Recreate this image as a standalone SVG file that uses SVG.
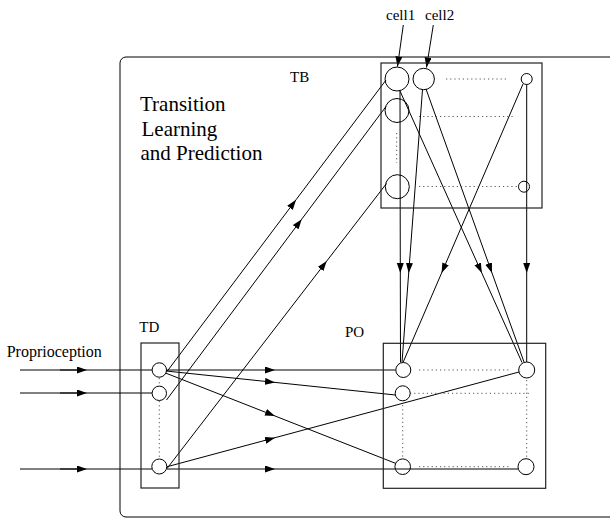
<svg xmlns="http://www.w3.org/2000/svg" width="610" height="525" viewBox="0 0 610 525">
  <style>
    .txt { font-family: "Liberation Serif", "Times New Roman", serif; fill: #000; }
    .lbl { font-size: 15px; }
    .title { font-size: 21px; }
    .box { fill: none; stroke: #222; stroke-width: 1.2; }
    .cell { fill: #fff; stroke: #000; stroke-width: 1; }
    .dots { fill: none; stroke: #555; stroke-width: 1; stroke-dasharray: 1.2 3; }
    .wire { fill: none; stroke: #000; stroke-width: 1; marker-mid: url(#head); }
    .plain { fill: none; stroke: #000; stroke-width: 1; }
    .ptr { fill: none; stroke: #000; stroke-width: 1; marker-end: url(#head); }
  </style>
  <defs>
    <marker id="head" markerUnits="userSpaceOnUse" markerWidth="11" markerHeight="8" refX="10" refY="3.5" orient="auto">
      <path d="M0,0 L10,3.5 L0,7 z" fill="#000"/>
    </marker>
  </defs>

  <rect width="610" height="525" fill="#fff"/>

  <!-- enclosing module -->
  <g id="module">
    <rect x="120" y="57" width="520" height="460" rx="6" fill="none" stroke="#000" stroke-width="1"/>
    <text class="txt title" x="140" y="111">Transition</text>
    <text class="txt title" x="141.5" y="136">Learning</text>
    <text class="txt title" x="140.5" y="160">and Prediction</text>
  </g>

  <!-- connectors -->
  <g id="connectors">
    <!-- proprioceptive inputs -->
    <path class="wire" d="M20,370 L87,370 L152,370"/>
    <path class="wire" d="M20,393 L87,393 L152,393"/>
    <path class="wire" d="M20,469 L87,469 L152,469"/>
    <path class="plain" d="M60,370 H78 M60,393 H78 M60,469 H78" stroke-width="1.6"/>

    <!-- TD to PO -->
    <path class="wire" d="M166.5,370 L275,370 L395.5,370"/>
    <path class="wire" d="M166,371 L275,382.4 L395.5,395"/>
    <path class="wire" d="M165.5,373 L275,416 L396,463.5"/>
    <path class="wire" d="M166,467 L275,437.7 L519,372"/>
    <path class="wire" d="M166.5,469 L275,469 L518,469"/>

    <!-- TD to TB -->
    <path class="wire" d="M167,371.5 L296,199.8 L386,80"/>
    <path class="wire" d="M166.5,400 L301.7,219.2 L386,106.5"/>
    <path class="wire" d="M167,468.5 L326.7,261.1 L386.5,183.5"/>

    <!-- TB to PO -->
    <path class="wire" d="M400,91 L400.3,273 L400.5,362.5"/>
    <path class="wire" d="M422.5,89.5 L408.7,273 L402,362.5"/>
    <path class="wire" d="M426,89 L492,273 L524,362"/>
    <path class="wire" d="M400,91 L481.8,273 L522,362.5"/>
    <path class="wire" d="M523,84 L441.6,273 L403,362.5"/>
    <path class="wire" d="M526.7,84.5 L526.7,273 L526.7,362"/>

    <!-- cell pointers -->
    <path class="ptr" d="M403.3,25 L397.5,66.5"/>
    <path class="ptr" d="M433.3,25 L426.5,67.5"/>
  </g>

  <!-- TB layer -->
  <g id="TB">
    <rect class="box" x="381" y="63" width="161" height="145"/>
    <text class="txt lbl" x="290" y="82">TB</text>
    <path class="dots" d="M446,79 H507 M419,116.5 H515 M419,186.5 H518 M396.7,133 V163"/>
    <circle class="cell" cx="397" cy="79" r="12" fill-opacity="0"/>
    <circle class="cell" cx="423.7" cy="79" r="10.7" fill-opacity="0"/>
    <circle class="cell" cx="526.7" cy="79" r="5.5" fill-opacity="0"/>
    <circle class="cell" cx="397" cy="110.5" r="12" fill-opacity="0"/>
    <circle class="cell" cx="397.3" cy="186.7" r="12" fill-opacity="0"/>
    <circle class="cell" cx="524" cy="186.7" r="5.5" fill-opacity="0"/>
    <text class="txt lbl" x="386" y="19.5">cell1</text>
    <text class="txt lbl" x="425" y="19.5">cell2</text>
  </g>

  <!-- TD layer -->
  <g id="TD">
    <rect class="box" x="141" y="343" width="38" height="145"/>
    <text class="txt lbl" x="139.3" y="331.7">TD</text>
    <path class="dots" d="M159.3,378 V386 M159.3,401 V459"/>
    <circle class="cell" cx="159.3" cy="370" r="7.2"/>
    <circle class="cell" cx="159.3" cy="393.3" r="7.2"/>
    <circle class="cell" cx="159.3" cy="466.5" r="7.5"/>
    <text class="txt" x="6.7" y="356.7" font-size="16">Proprioception</text>
  </g>

  <!-- PO layer -->
  <g id="PO">
    <rect class="box" x="383.3" y="343.3" width="162.4" height="145"/>
    <text class="txt lbl" x="345" y="337.3">PO</text>
    <path class="dots" d="M419,370 H510 M410,393.3 H529 M402.7,405 V458 M526.7,380 V458 M419,466.7 H510"/>
    <circle class="cell" cx="403.3" cy="370" r="7.5"/>
    <circle class="cell" cx="526.7" cy="370" r="8"/>
    <circle class="cell" cx="402.7" cy="393.3" r="7.5"/>
    <circle class="cell" cx="402.7" cy="466.7" r="7.8" fill-opacity="0"/>
    <circle class="cell" cx="526" cy="466.7" r="8" fill-opacity="0"/>
  </g>
</svg>
